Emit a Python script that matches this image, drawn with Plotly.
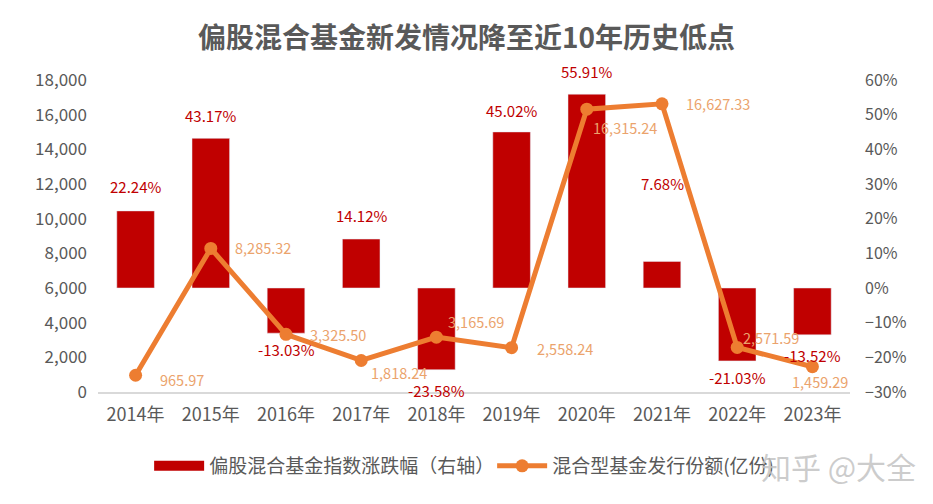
import plotly.graph_objects as go

years = ["2014年", "2015年", "2016年", "2017年", "2018年", "2019年", "2020年", "2021年", "2022年", "2023年"]
index_change = [22.24, 43.17, -13.03, 14.12, -23.58, 45.02, 55.91, 7.68, -21.03, -13.52]
issuance = [965.97, 8285.32, 3325.50, 1818.24, 3165.69, 2558.24, 16315.24, 16627.33, 2571.59, 1459.29]

# label offsets in pixels (style only)
bar_label_dy = [24, 23, -16, 24, -21, 21, 23, 78, -17, -21]
line_label_dx = [22, 22, 22, 8, 10, 23, 4, 22, 4, -22]
line_label_dy = [-4, 1, 0, -12, 16, -1, -18, 0, 10, -15]

FONT = "Noto Sans CJK SC, Microsoft YaHei, sans-serif"
GRAY = "#595959"
BAR_C = "#C00000"
LINE_C = "#ED7D31"
LINE_LABEL_C = "#EBA36C"
BAR_NAME = "偏股混合基金指数涨跌幅（右轴）"
LINE_NAME = "混合型基金发行份额(亿份)"

fig = go.Figure()
fig.add_trace(go.Bar(
    x=years, y=index_change, name=BAR_NAME, legendgroup="bar", showlegend=False,
    yaxis="y", marker_color=BAR_C, width=0.5,
))
# legend entry with a wide rectangular swatch for the bar series
fig.add_trace(go.Scatter(
    x=[None], y=[None], name=BAR_NAME, legendgroup="bar", mode="lines",
    line=dict(color=BAR_C, width=14), yaxis="y", hoverinfo="skip",
))
fig.add_trace(go.Scatter(
    x=years, y=issuance, name=LINE_NAME, yaxis="y2",
    mode="lines+markers", line=dict(color=LINE_C, width=5),
    marker=dict(size=13, color=LINE_C), cliponaxis=False,
))

for yr, v, dy in zip(years, index_change, bar_label_dy):
    fig.add_annotation(x=yr, y=v, xref="x", yref="y", text=f"{v:.2f}%", showarrow=False,
                       yshift=dy, xanchor="center", yanchor="middle",
                       font=dict(color=BAR_C, size=15, family=FONT))
for yr, v, dx, dy in zip(years, issuance, line_label_dx, line_label_dy):
    fig.add_annotation(x=yr, y=v, xref="x", yref="y2", text=f"{v:,.2f}", showarrow=False,
                       xshift=dx, yshift=dy, xanchor="left", yanchor="middle",
                       font=dict(color=LINE_LABEL_C, size=14.5, family=FONT))

fig.update_layout(
    width=933, height=504,
    paper_bgcolor="white", plot_bgcolor="white",
    margin=dict(l=90, r=91, t=72, b=120),
    font=dict(family=FONT, color=GRAY, size=16),
    title=dict(text="<b>偏股混合基金新发情况降至近10年历史低点</b>", x=0.4914, xanchor="center",
               y=0.94, yanchor="middle", font=dict(size=28, color=GRAY, family=FONT)),
    xaxis=dict(showline=True, linecolor="#D9D9D9", linewidth=2, ticks="", automargin=False,
               range=[-0.5, len(years) - 0.5], ticklabelstandoff=5,
               tickfont=dict(size=18, color=GRAY)),
    yaxis=dict(range=[-30, 60], dtick=10, ticksuffix="%", side="right", automargin=False,
               showgrid=False, zeroline=False, ticklabelstandoff=14,
               tickfont=dict(size=16, color=GRAY)),
    yaxis2=dict(range=[0, 18000], dtick=2000, tickformat=",", overlaying="y", side="left",
                automargin=False, showgrid=False, zeroline=False, ticklabelstandoff=10,
                tickfont=dict(size=17, color=GRAY)),
    legend=dict(orientation="h", x=0.068, xanchor="left", y=-0.237, yanchor="middle",
                font=dict(size=19, color=GRAY, family=FONT), itemwidth=50,
                entrywidth=278, entrywidthmode="pixels"),
    showlegend=True,
)
fig.add_annotation(text="知乎 @大全", xref="paper", yref="paper", x=1.09, y=-0.237,
                   xanchor="right", yanchor="middle", showarrow=False,
                   font=dict(size=30, color="rgba(195,195,195,0.85)", family=FONT))

fig.write_html("out.html")
